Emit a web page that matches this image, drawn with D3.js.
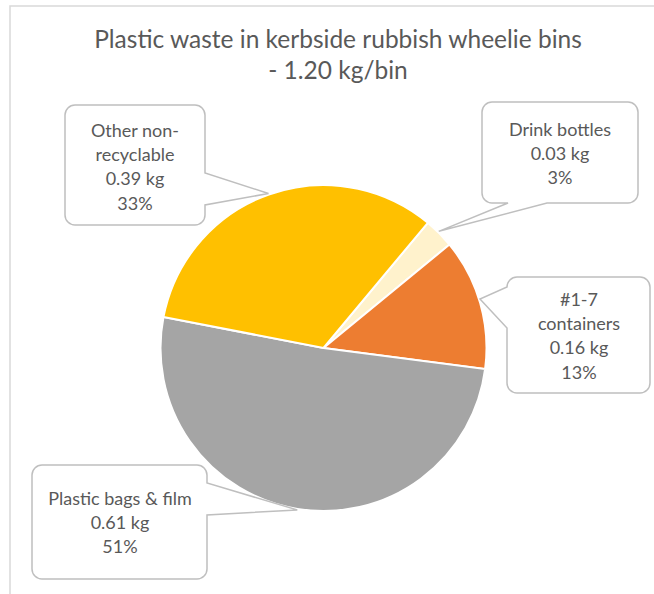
<!DOCTYPE html>
<html>
<head>
<meta charset="utf-8">
<script src="https://cdn.jsdelivr.net/npm/d3@7"></script>
<style>
  body { margin: 0; background: #fff; }
  text { font-family: Lato, "Open Sans", sans-serif; fill: #595959; }
</style>
</head>
<body>
<div id="chart"></div>
<script>
// chart data
var categories = ["Drink bottles", "#1-7 containers", "Plastic bags & film", "Other non-recyclable"];
var labelLines = [["Drink bottles"], ["#1-7", "containers"], ["Plastic bags & film"], ["Other non-", "recyclable"]];
var weightsKg = [0.03, 0.16, 0.61, 0.39];
var shares = [3, 13, 51, 33];
var titleLines = ["Plastic waste in kerbside rubbish wheelie bins", "- 1.20 kg/bin"];

var colors = ["#FFF2CC", "#ED7D31", "#A5A5A5", "#FFC000"];

var width = 654, height = 594;
var cx = 323.5, cy = 348, radius = 163;

var svg = d3.select("#chart")
  .append("svg")
    .attr("width", width)
    .attr("height", height);

// chart area frame (only top and left edges are in view)
svg.append("rect")
  .attr("x", 10)
  .attr("y", 6)
  .attr("width", width + 20)
  .attr("height", height + 20)
  .attr("fill", "none")
  .attr("stroke", "#d9d9d9")
  .attr("stroke-width", 1.5);

// title
svg.append("text")
  .attr("x", 338)
  .attr("y", 48)
  .attr("text-anchor", "middle")
  .style("font-size", "24.5px")
  .selectAll("tspan")
  .data(titleLines)
  .enter().append("tspan")
    .attr("x", 338)
    .attr("dy", function(d, i) { return i === 0 ? 0 : 31; })
    .text(function(d) { return d; });

// pie layout, first slice starts at about 40 degrees
var start = 39.8 * Math.PI / 180;
var pie = d3.pie()
  .sort(null)
  .value(function(d) { return d; })
  .startAngle(start)
  .endAngle(start + 2 * Math.PI);

var arcs = pie(shares);

var arc = d3.arc()
  .innerRadius(0)
  .outerRadius(radius);

var g = svg.append("g")
  .attr("transform", "translate(" + cx + "," + cy + ")");

g.selectAll(".slice")
  .data(arcs)
  .enter().append("path")
    .attr("class", "slice")
    .attr("d", arc)
    .attr("fill", function(d, i) { return colors[i]; })
    .attr("stroke", "#fff")
    .attr("stroke-width", 2);

// callout boxes: box, side the pointer leaves from, and where on that side
var callouts = [
  {box: {x: 482, y: 102, w: 156, h: 101}, side: "bottom", p0: 508, p1: 547, frac: 0.45, textX: 560, textY: 136},
  {box: {x: 507, y: 277, w: 143, h: 116}, side: "left", p0: 287, p1: 328, frac: 0.47, textX: 579, textY: 306},
  {box: {x: 32, y: 465, w: 175, h: 114}, side: "right", p0: 483, p1: 515, frac: 0.5, textX: 120, textY: 505},
  {box: {x: 65, y: 105, w: 140, h: 120}, side: "right", p0: 173, p1: 205, frac: 0.5, textX: 135, textY: 137}
];

// point on the rim of a slice, used as the callout tip
function tipPoint(d, frac) {
  var a = d.startAngle + frac * (d.endAngle - d.startAngle);
  return [cx + (radius + 1) * Math.sin(a), cy - (radius + 1) * Math.cos(a)];
}

// rounded rectangle with a wedge pointing at the slice
function calloutPath(c, tip) {
  var r = 10, x0 = c.box.x, y0 = c.box.y, x1 = c.box.x + c.box.w, y1 = c.box.y + c.box.h;
  var p = d3.path();
  p.moveTo(x0 + r, y0);
  if (c.side === "top") { p.lineTo(c.p0, y0); p.lineTo(tip[0], tip[1]); p.lineTo(c.p1, y0); }
  p.lineTo(x1 - r, y0);
  p.arcTo(x1, y0, x1, y0 + r, r);
  if (c.side === "right") { p.lineTo(x1, c.p0); p.lineTo(tip[0], tip[1]); p.lineTo(x1, c.p1); }
  p.lineTo(x1, y1 - r);
  p.arcTo(x1, y1, x1 - r, y1, r);
  if (c.side === "bottom") { p.lineTo(c.p1, y1); p.lineTo(tip[0], tip[1]); p.lineTo(c.p0, y1); }
  p.lineTo(x0 + r, y1);
  p.arcTo(x0, y1, x0, y1 - r, r);
  if (c.side === "left") { p.lineTo(x0, c.p1); p.lineTo(tip[0], tip[1]); p.lineTo(x0, c.p0); }
  p.lineTo(x0, y0 + r);
  p.arcTo(x0, y0, x0 + r, y0, r);
  p.closePath();
  return p.toString();
}

var labels = svg.selectAll(".callout")
  .data(arcs)
  .enter().append("g")
    .attr("class", "callout");

labels.append("path")
  .attr("d", function(d, i) { return calloutPath(callouts[i], tipPoint(d, callouts[i].frac)); })
  .attr("fill", "#fff")
  .attr("stroke", "#bfbfbf")
  .attr("stroke-width", 1.5);

labels.append("text")
  .attr("text-anchor", "middle")
  .style("font-size", "18px")
  .each(function(d, i) {
    var c = callouts[i];
    var lines = labelLines[i].concat([weightsKg[i].toFixed(2) + " kg", shares[i] + "%"]);
    d3.select(this).selectAll("tspan")
      .data(lines)
      .enter().append("tspan")
        .attr("x", c.textX)
        .attr("y", function(l, j) { return c.textY + j * 24.2; })
        .text(function(l) { return l; });
  });
</script>
</body>
</html>
